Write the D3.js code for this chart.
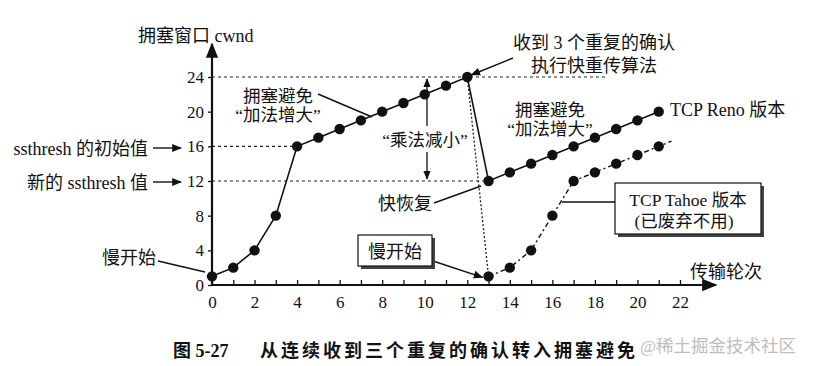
<!DOCTYPE html>
<html>
<head>
<meta charset="utf-8">
<script src="https://cdn.jsdelivr.net/npm/d3@7"></script>
<style>
  body { margin: 0; background: #fff; }
  text { font-family: "Liberation Serif", "Noto Sans CJK SC", serif; fill: #111; white-space: pre; }
</style>
</head>
<body>
<div id="chart"></div>
<script>
// data
var renoRounds = [0, 1, 2, 3, 4, 5, 6, 7, 8, 9, 10, 11, 12, 13, 14, 15, 16, 17, 18, 19, 20, 21];
var renoCwnd   = [1, 2, 4, 8, 16, 17, 18, 19, 20, 21, 22, 23, 24, 12, 13, 14, 15, 16, 17, 18, 19, 20];
var tahoeRounds = [13, 14, 15, 16, 17, 18, 19, 20, 21];
var tahoeCwnd   = [1, 2, 4, 8, 12, 13, 14, 15, 16];
var xTicks = [0, 1, 2, 3, 4, 5, 6, 7, 8, 9, 10, 11, 12, 13, 14, 15, 16, 17, 18, 19, 20, 21, 22];
var yTicks = [0, 4, 8, 12, 16, 20, 24];

var width = 815, height = 366;

var svg = d3.select("#chart")
  .append("svg")
    .attr("width", width)
    .attr("height", height);

var x = d3.scaleLinear().domain([0, 22]).range([212, 680]);
var y = d3.scaleLinear().domain([0, 24]).range([285, 77]);

svg.append("defs").append("marker")
    .attr("id", "arr")
    .attr("viewBox", "0 0 10 10")
    .attr("refX", 9).attr("refY", 5)
    .attr("markerWidth", 7).attr("markerHeight", 7)
    .attr("orient", "auto-start-reverse")
  .append("path")
    .attr("d", "M0,1 L10,5 L0,9 Z")
    .attr("fill", "#111");

// axes
var xAxis = svg.append("g")
    .attr("transform", "translate(0," + y(0) + ")")
    .call(d3.axisBottom(x).tickValues(xTicks).tickSizeInner(-5).tickSizeOuter(0).tickPadding(11)
      .tickFormat(function (d) { return d % 2 === 0 ? d : ""; }));
xAxis.select(".domain").remove();
xAxis.selectAll("text").style("font-size", "17px").attr("fill", "#111");
xAxis.selectAll("line").attr("stroke", "#111").attr("stroke-width", 1.3);

var yAxis = svg.append("g")
    .attr("transform", "translate(" + x(0) + ",0)")
    .call(d3.axisLeft(y).tickValues(yTicks).tickSize(4).tickPadding(4));
yAxis.select(".domain").remove();
yAxis.selectAll("text").style("font-size", "17px").attr("fill", "#111");
yAxis.selectAll("line").attr("stroke", "#111").attr("stroke-width", 1.3);

svg.append("line")
    .attr("x1", x(0)).attr("y1", y(0)).attr("x2", 716).attr("y2", y(0))
    .attr("stroke", "#111").attr("stroke-width", 2.2)
    .attr("marker-end", "url(#arr)");
svg.append("line")
    .attr("x1", x(0)).attr("y1", y(0)).attr("x2", x(0)).attr("y2", 44)
    .attr("stroke", "#111").attr("stroke-width", 2.2)
    .attr("marker-end", "url(#arr)");

// dashed reference lines
var refs = [[24, 18.6], [16, 4], [12, 13]];
refs.forEach(function (r) {
  svg.append("line")
      .attr("x1", x(0)).attr("x2", x(r[1]))
      .attr("y1", y(r[0])).attr("y2", y(r[0]))
      .attr("stroke", "#222").attr("stroke-width", 1.2)
      .attr("stroke-dasharray", "3,3");
});

// drop to slow start (Tahoe)
svg.append("line")
    .attr("x1", x(12)).attr("y1", y(24)).attr("x2", x(13)).attr("y2", y(1))
    .attr("stroke", "#222").attr("stroke-width", 1.3)
    .attr("stroke-dasharray", "2,2");

var line = d3.line()
    .x(function (d) { return x(d[0]); })
    .y(function (d) { return y(d[1]); });

var reno = renoRounds.map(function (r, i) { return [r, renoCwnd[i]]; });
var tahoe = tahoeRounds.map(function (r, i) { return [r, tahoeCwnd[i]]; });

svg.append("path")
    .datum(reno)
    .attr("d", line)
    .attr("fill", "none").attr("stroke", "#111").attr("stroke-width", 1.6);

svg.append("path")
    .datum(tahoe.concat([[21.6, 16.6]]))
    .attr("d", line)
    .attr("fill", "none").attr("stroke", "#111").attr("stroke-width", 1.4)
    .attr("stroke-dasharray", "5,3,2,3");

svg.selectAll(".reno").data(reno).enter().append("circle")
    .attr("cx", function (d) { return x(d[0]); })
    .attr("cy", function (d) { return y(d[1]); })
    .attr("r", 5.2).attr("fill", "#111");

svg.selectAll(".tahoe").data(tahoe).enter().append("circle")
    .attr("cx", function (d) { return x(d[0]); })
    .attr("cy", function (d) { return y(d[1]); })
    .attr("r", 5.2).attr("fill", "#111");

// "乘法减小" double arrow
svg.append("line")
    .attr("x1", 427).attr("y1", 126).attr("x2", 427).attr("y2", y(24) + 2)
    .attr("stroke", "#111").attr("stroke-width", 1.3).attr("marker-end", "url(#arr)");
svg.append("line")
    .attr("x1", 427).attr("y1", 152).attr("x2", 427).attr("y2", y(12) - 2)
    .attr("stroke", "#111").attr("stroke-width", 1.3).attr("marker-end", "url(#arr)");

// text labels
function label(tx, ty, s, size, anchor) {
  return svg.append("text")
      .attr("x", tx).attr("y", ty)
      .attr("text-anchor", anchor || "start")
      .style("font-size", (size || 17) + "px")
      .text(s);
}

label(138, 42, "拥塞窗口 cwnd", 18);
label(594, 49, "收到 3 个重复的确认", 18, "middle");
label(594, 72, "执行快重传算法", 18, "middle");
label(278, 102, "拥塞避免", 17.5, "middle");
label(278, 121, "“加法增大”", 17.5, "middle");
label(425, 146, "“乘法减小”", 17.5, "middle");
label(550, 116, "拥塞避免", 17.5, "middle");
label(550, 135, "“加法增大”", 17.5, "middle");
label(670, 116, "TCP Reno 版本", 18);
label(148, 155, "ssthresh 的初始值", 18, "end");
label(148, 189, "新的 ssthresh 值", 18, "end");
label(156, 264, "慢开始", 18, "end");
label(432, 210, "快恢复", 18, "end");
label(690, 278, "传输轮次", 18);
label(173, 357, "图 5-27", 18).style("font-weight", "bold");
label(260, 357, "从连续收到三个重复的确认转入拥塞避免", 18)
    .style("font-weight", "bold").style("letter-spacing", "3px");
label(640, 352, "@稀土掘金技术社区", 17.5).style("fill", "#bdbdbd");

// leader lines
function leader(x1, y1, x2, y2, arrow) {
  var l = svg.append("line")
      .attr("x1", x1).attr("y1", y1).attr("x2", x2).attr("y2", y2)
      .attr("stroke", "#111").attr("stroke-width", 1.4);
  if (arrow) l.attr("marker-end", "url(#arr)");
}
leader(153, 148, 181, 148, true);
leader(153, 182, 181, 182, true);
leader(318, 94, 372, 117);
leader(513, 58, x(12) + 4, y(24) - 2, true);
leader(158, 261, 205, 272);
leader(434, 203, 481, 186);
leader(433, 261, x(13) - 6, y(1) + 1, true);
leader(562, 202, 615, 202);

// boxes
function box(bx, by, bw, bh) {
  svg.append("rect")
      .attr("x", bx + 3).attr("y", by + 3).attr("width", bw).attr("height", bh)
      .attr("fill", "#444");
  svg.append("rect")
      .attr("x", bx).attr("y", by).attr("width", bw).attr("height", bh)
      .attr("fill", "#fff").attr("stroke", "#111").attr("stroke-width", 1.2);
}
box(358, 235, 74, 31);
label(395, 258, "慢开始", 18, "middle");
box(615, 183, 146, 51);
label(688, 206, "TCP Tahoe 版本", 17.5, "middle");
label(684, 227, "(已废弃不用)", 17.5, "middle");
</script>
</body>
</html>
